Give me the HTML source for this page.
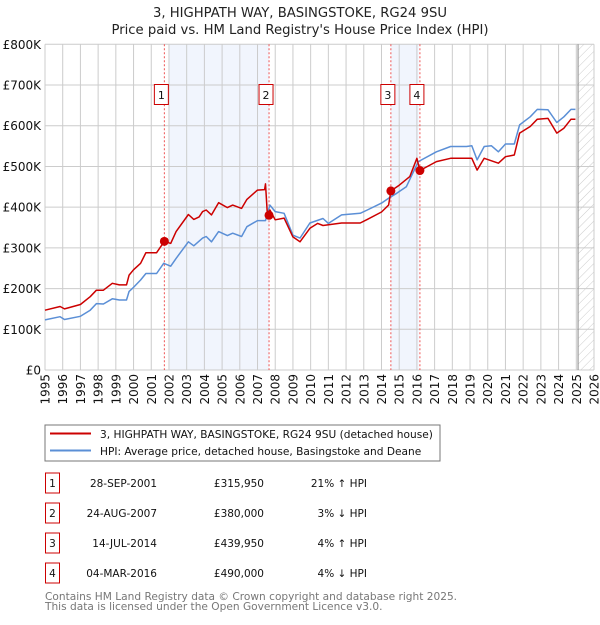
<!DOCTYPE html>
<html><head><meta charset="utf-8"><style>
body{margin:0;background:#fff;}
svg text{font-family:"DejaVu Sans","Liberation Sans",sans-serif;}
</style></head><body>
<svg id="c" width="600" height="620" viewBox="0 0 600 620" xmlns="http://www.w3.org/2000/svg">
<text x="300" y="17" text-anchor="middle" font-size="13.2" fill="#222">3, HIGHPATH WAY, BASINGSTOKE, RG24 9SU</text>
<text x="300" y="34" text-anchor="middle" font-size="13.2" fill="#222">Price paid vs. HM Land Registry's House Price Index (HPI)</text>
<g id="plot"></g>
<rect x="45" y="425" width="395" height="36" fill="#fff" stroke="#777"/>
<line x1="50" y1="433.5" x2="91" y2="433.5" stroke="#cc0000" stroke-width="2"/>
<text x="100" y="438" font-size="10.6" fill="#111">3, HIGHPATH WAY, BASINGSTOKE, RG24 9SU (detached house)</text>
<line x1="50" y1="450.5" x2="91" y2="450.5" stroke="#5b8fd6" stroke-width="2"/>
<text x="100" y="455" font-size="10.6" fill="#111">HPI: Average price, detached house, Basingstoke and Deane</text>
<g id="tbl"></g>
<text x="45" y="600" font-size="10.6" fill="#777">Contains HM Land Registry data © Crown copyright and database right 2025.</text>
<text x="45" y="610" font-size="10.6" fill="#777">This data is licensed under the Open Government Licence v3.0.</text>
</svg>
<script>
const redYears=[1995.0,1995.85,1996.1,1997.0,1997.55,1997.9,1998.3,1998.8,1999.2,1999.6,1999.75,2000.0,2000.4,2000.7,2001.3,2001.74,2002.1,2002.4,2003.1,2003.4,2003.7,2003.9,2004.1,2004.4,2004.8,2005.3,2005.6,2006.1,2006.4,2007.0,2007.4,2007.45,2007.55,2007.7,2008.0,2008.5,2009.0,2009.4,2009.96,2010.4,2010.7,2011.75,2012.8,2013.2,2014.0,2014.4,2014.53,2015.0,2015.6,2016.0,2016.17,2017.1,2017.9,2019.1,2019.4,2019.8,2020.6,2021.0,2021.5,2021.8,2022.4,2022.8,2023.4,2023.9,2024.3,2024.7,2024.95];
const redValues=[147,156,150,161,180,196,196,213,209,209,233,246,262,288,288,316,311,340,382,370,376,389,393,381,411,399,405,397,419,442,443,457,385,393,369,373,327,315,348,360,355,361,361,370,388,405,440,454,475,520,490,512,520,520,491,520,508,524,528,582,598,616,618,582,594,616,616];
const hpiYears=[1995.0,1995.85,1996.1,1997.0,1997.55,1997.9,1998.3,1998.8,1999.2,1999.6,1999.75,2000.0,2000.4,2000.7,2001.3,2001.7,2002.1,2002.4,2003.1,2003.4,2003.9,2004.1,2004.4,2004.8,2005.3,2005.6,2006.1,2006.4,2007.0,2007.45,2007.7,2008.0,2008.5,2009.0,2009.4,2009.96,2010.7,2011.0,2011.75,2012.8,2013.2,2014.0,2014.4,2014.86,2015.4,2016.08,2017.1,2017.9,2018.8,2019.1,2019.4,2019.8,2020.2,2020.6,2021.0,2021.5,2021.8,2022.4,2022.8,2023.4,2023.9,2024.3,2024.7,2024.95];
const hpiValues=[123,131,124,132,147,163,162,175,172,172,193,203,221,237,237,262,255,274,315,305,324,328,315,340,330,336,328,352,367,367,405,389,385,331,324,361,372,360,381,385,393,410,422,434,450,512,536,549,549,551,516,549,551,536,555,555,602,622,640,639,608,622,640,640];
const saleYears=[2001.74,2007.65,2014.53,2016.17];
const saleValues=[315.95,380,439.95,490];
const saleLabels=["1","2","3","4"];
const saleDates=["28-SEP-2001","24-AUG-2007","14-JUL-2014","04-MAR-2016"];
const salePrices=["£315,950","£380,000","£439,950","£490,000"];
const salePct=["21% ↑ HPI","3% ↓ HPI","4% ↑ HPI","4% ↓ HPI"];
const yTicks=[0,100,200,300,400,500,600,700,800];
const yTickLabels=["£0","£100K","£200K","£300K","£400K","£500K","£600K","£700K","£800K"];
const xTicks=[1995,1996,1997,1998,1999,2000,2001,2002,2003,2004,2005,2006,2007,2008,2009,2010,2011,2012,2013,2014,2015,2016,2017,2018,2019,2020,2021,2022,2023,2024,2025,2026];

const X0=45,X1=594,Y0=370,Y1=44.3;
const xs=y=>X0+(y-1995)*(X1-X0)/31;
const ys=v=>Y0-v*(Y0-Y1)/800;
const NS="http://www.w3.org/2000/svg";
const plot=document.getElementById('plot');
function mk(tag,attrs,parent){const e=document.createElementNS(NS,tag);for(const k in attrs)e.setAttribute(k,attrs[k]);(parent||plot).appendChild(e);return e;}

let s1=mk('rect',{x:xs(2002.0),y:Y1,width:xs(2007.65)-xs(2002.0),height:Y0-Y1,fill:'#eef3fc',opacity:0.8});


let s2=mk('rect',{x:xs(2014.53),y:Y1,width:xs(2016.1)-xs(2014.53),height:Y0-Y1,fill:'#eef3fc',opacity:0.8});



const defs=mk('defs',{});
const pat=mk('pattern',{id:'hatch',width:6,height:6,patternUnits:'userSpaceOnUse',patternTransform:'rotate(45)'},defs);
mk('line',{x1:0,y1:0,x2:0,y2:6,stroke:'#ccc','stroke-width':1},pat);
let fut=mk('rect',{x:xs(2025.1),y:Y1,width:X1-xs(2025.1),height:Y0-Y1,fill:'url(#hatch)'});



yTicks.forEach((t,i)=>{
  let g=mk('line',{x1:X0,x2:X1,y1:ys(t),y2:ys(t),stroke:'#ccc','stroke-width':1});
  
  
  let l=mk('text',{x:X0-4,y:ys(t)+4.5,'text-anchor':'end','font-size':12,fill:'#111'});
  l.textContent=yTickLabels[i];
  
  
});
xTicks.forEach(t=>{
  let g=mk('line',{x1:xs(t),x2:xs(t),y1:Y1,y2:Y0,stroke:'#ccc','stroke-width':1});
  
  
  let l=mk('text',{x:0,y:0,'text-anchor':'end','font-size':12,fill:'#111',transform:`translate(${xs(t)+4.5},${Y0+4}) rotate(-90)`});
  l.textContent=t;
  
  
});
let vl=mk('line',{x1:xs(2025.1),x2:xs(2025.1),y1:Y1,y2:Y0,stroke:'#888','stroke-width':1});



saleYears.forEach((y,i)=>{
  let d=mk('line',{x1:xs(y),x2:xs(y),y1:Y1,y2:Y0,stroke:'#ee5555','stroke-width':1,'stroke-dasharray':'2,2'});
  
  
  let r=mk('rect',{x:xs(y)-10,y:84.5,width:14,height:20,fill:'#fff',stroke:'#cc0000','stroke-width':1});
  
  
  let t=mk('text',{x:xs(y)-3,y:99,'text-anchor':'middle','font-size':11,fill:'#111'});
  t.textContent=saleLabels[i];
  
  
});

function line(xa,va,color,name){
  const d=xa.map((y,i)=>(i?'L':'M')+xs(y).toFixed(1)+','+ys(va[i]).toFixed(1)).join('');
  let p=mk('path',{d:d,fill:'none',stroke:color,'stroke-width':1.5,'stroke-linejoin':'round'});
  
  
}
line(hpiYears,hpiValues,'#5b8fd6','hpi-line');
line(redYears,redValues,'#cc0000','property-price-line');
saleYears.forEach((y,i)=>{
  let c=mk('circle',{cx:xs(y),cy:ys(saleValues[i]),r:4.5,fill:'#cc0000'});
  
  
});

const tbl=document.getElementById('tbl');
saleYears.forEach((y,i)=>{
  const cy=483+i*30;
  let r=mk('rect',{x:45.5,y:cy-10,width:14,height:20,fill:'#fff',stroke:'#cc0000','stroke-width':1},tbl);
  
  
  let a=mk('text',{x:52.5,y:cy+4,'text-anchor':'middle','font-size':10.5,fill:'#111'},tbl);
  a.textContent=saleLabels[i];
  
  
  let b=mk('text',{x:157,y:cy+4,'text-anchor':'end','font-size':10.5,fill:'#111'},tbl);
  b.textContent=saleDates[i];
  
  
  let c=mk('text',{x:264,y:cy+4,'text-anchor':'end','font-size':10.5,fill:'#111'},tbl);
  c.textContent=salePrices[i];
  
  
  let e=mk('text',{x:367,y:cy+4,'text-anchor':'end','font-size':10.5,fill:'#111'},tbl);
  e.textContent=salePct[i];
  
  
});
</script>
</body></html>
